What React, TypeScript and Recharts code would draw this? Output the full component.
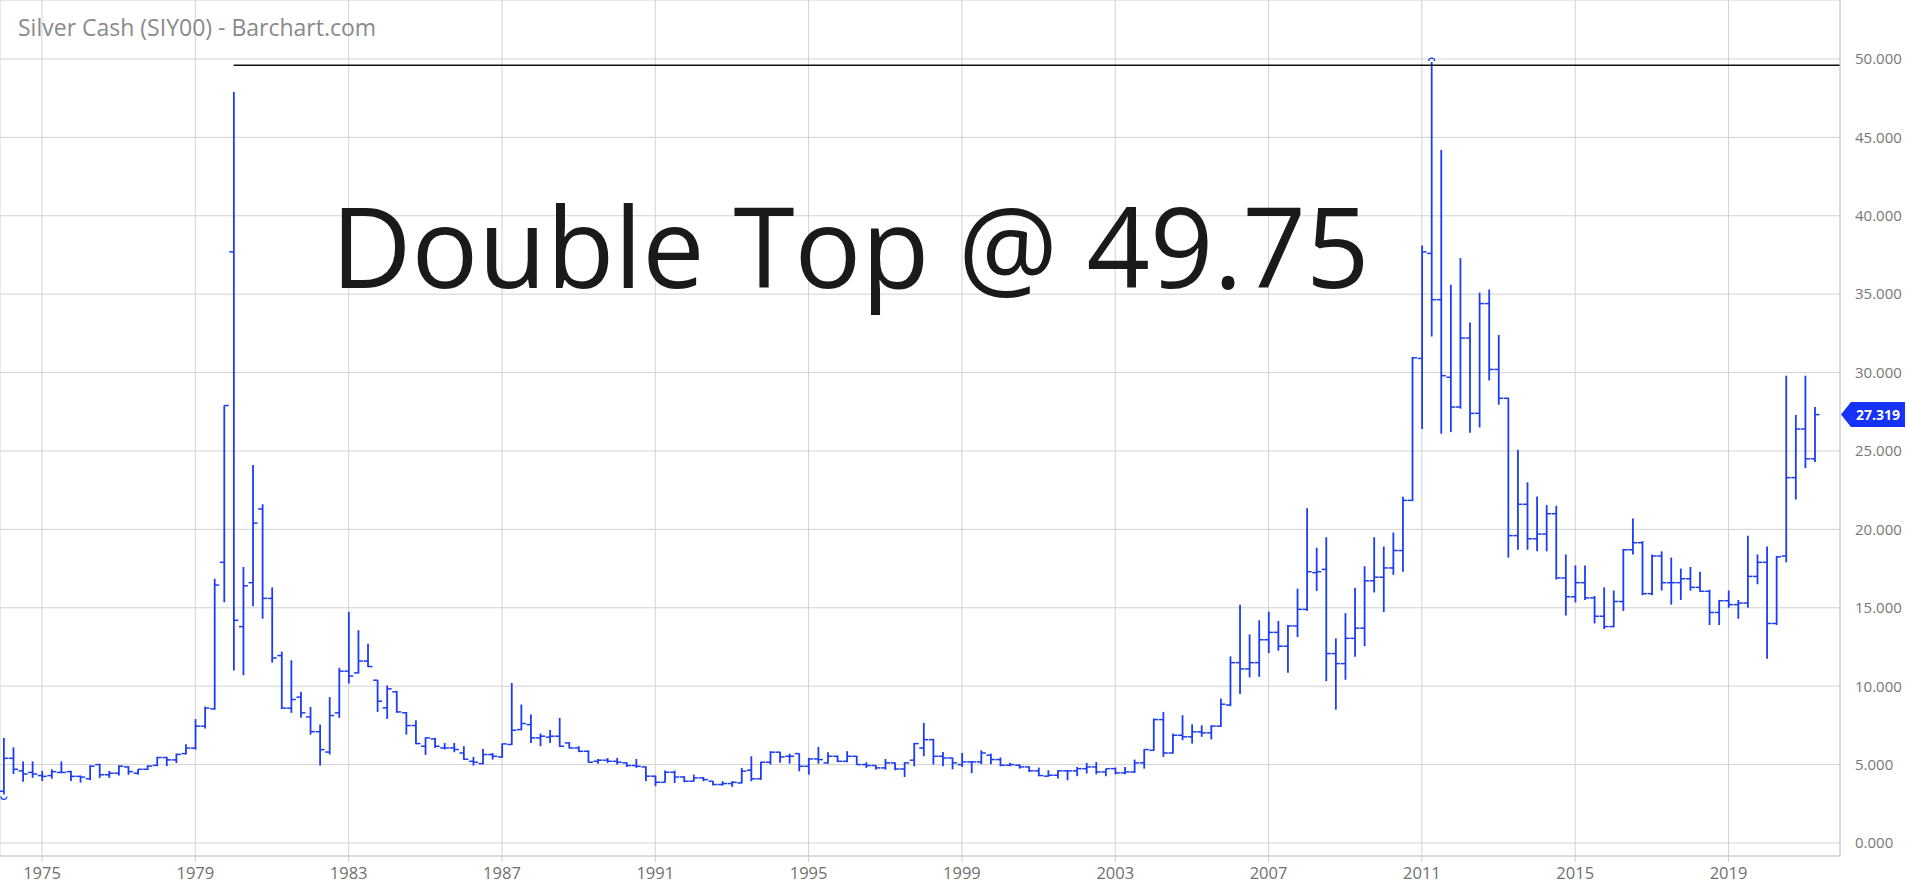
import React from "react";
import {
  ComposedChart,
  Bar,
  XAxis,
  YAxis,
  CartesianGrid,
  ReferenceLine,
} from "recharts";

// quarterly bars, first one is 1974 Q1
const FIRST_YEAR = 1974;

// prettier-ignore
const opens = [
  3.3, 5.4, 4.6, 4.5,   4.3, 4.3, 4.5, 4.55,   4.25, 4.1, 5.0, 4.35,   4.45, 4.85, 4.45, 4.7,
  4.95, 5.45, 5.3, 5.7,   6.05, 7.45, 8.55, 17.9,   37.7, 13.8, 16.6, 21.3,   15.6, 11.95, 8.6, 9.3,
  8.04, 7.1, 5.8, 8.3,   10.96, 10.85, 11.6, 10.38,   8.62, 9.64, 8.3, 7.49,   6.17, 6.64, 6.06, 6.06,
  5.74, 5.21, 5.06, 5.64,   5.49, 6.28, 7.23, 7.55,   6.7, 6.75, 6.81, 6.38,   6.06, 5.85, 5.21, 5.28,
  5.21, 5.11, 4.94, 4.85,   4.26, 3.87, 4.51, 4.21,   3.94, 4.15, 3.94, 3.73,   3.79, 3.83, 4.64, 4.09,
  5.15, 5.79, 5.53, 5.7,   4.89, 5.36, 5.11, 5.53,   5.21, 5.53, 5.0, 4.94,   4.79, 5.11, 4.72, 5.28,
  6.06, 6.59, 5.53, 5.42,   5.0, 5.17, 5.17, 5.6,   5.32, 4.96, 4.96, 4.85,   4.6, 4.26, 4.32, 4.6,
  4.6, 4.74, 4.85, 4.53,   4.74, 4.47, 4.53, 5.11,   5.91, 7.87, 5.74, 6.87,   6.77, 7.09, 7.02, 7.45,
  8.8, 11.5, 11.1, 11.5,   12.96, 13.43, 12.55, 13.84,   14.9, 17.24, 17.45, 12.08,   11.44, 13.05, 13.7, 16.72,
  16.95, 17.54, 18.65, 21.85,   30.9, 37.6, 34.65, 29.7,   27.8, 32.2, 27.4, 34.4,   30.2, 28.36, 19.6, 21.6,
  19.4, 19.7, 21.0, 16.9,   15.7, 16.6, 15.63, 14.46,   13.8, 15.4, 18.7, 19.15,   15.9, 18.3, 16.6, 16.6,
  16.85, 16.3, 16.05, 14.7,   15.45, 15.2, 15.3, 17.0,   17.9, 14.0, 18.3, 23.3,   26.4, 24.5,
];

// prettier-ignore
const highs = [
  6.7, 6.1, 5.2, 5.2,   4.6, 4.7, 5.2, 4.6,   4.3, 4.95, 5.05, 4.6,   4.95, 4.9, 4.7, 4.95,
  5.5, 5.5, 5.7, 6.3,   7.9, 8.7, 16.85, 27.9,   47.9, 17.6, 24.1, 21.6,   16.3, 12.2, 11.65, 9.64,
  8.67, 7.55, 9.3, 11.17,   14.74, 13.57, 12.7, 10.4,   10.04, 9.7, 8.35, 7.83,   6.74, 6.7, 6.38, 6.38,
  6.17, 5.49, 6.0, 5.74,   6.34, 10.2, 8.83, 8.19,   6.98, 7.2, 7.98, 6.43,   6.17, 5.9, 5.36, 5.42,
  5.42, 5.15, 5.36, 4.88,   4.3, 4.62, 4.62, 4.26,   4.36, 4.21, 3.96, 3.94,   3.94, 4.79, 5.53, 5.18,
  5.85, 5.82, 5.7, 5.72,   5.42, 6.13, 5.79, 5.57,   5.85, 5.56, 5.15, 4.96,   5.36, 5.14, 5.15, 6.38,
  7.66, 6.64, 5.8, 5.45,   5.74, 5.23, 5.91, 5.7,   5.45, 5.11, 5.02, 4.89,   4.81, 4.64, 4.64, 4.64,
  4.85, 5.11, 5.17, 4.74,   4.81, 4.85, 5.32, 5.98,   7.94, 8.36, 6.98, 8.15,   7.57, 7.51, 7.51, 9.21,
  11.9, 15.2, 13.3, 14.2,   14.75, 14.16, 13.9, 16.22,   21.35, 18.83, 19.5, 13.05,   14.66, 16.28, 17.65, 19.5,
  18.91, 19.8, 22.08, 31.0,   38.1, 49.8, 44.2, 35.6,   37.3, 33.2, 35.1, 35.3,   32.4, 28.4, 25.07, 23.0,
  22.1, 21.55, 21.5, 18.4,   17.7, 17.7, 15.75, 16.3,   16.1, 18.75, 20.7, 19.25,   18.4, 18.6, 18.2, 17.5,
  17.6, 17.3, 16.15, 15.5,   16.1, 15.5, 19.6, 18.4,   18.9, 18.3, 29.8, 27.3,   29.8, 27.8,
];

// prettier-ignore
const lows = [
  3.1, 4.4, 3.9, 4.15,   3.95, 4.1, 4.45, 3.95,   3.85, 4.0, 4.15, 4.15,   4.3, 4.35, 4.35, 4.65,
  4.9, 4.9, 5.1, 5.65,   5.95, 7.3, 8.5, 15.35,   11.0, 10.7, 15.1, 14.3,   11.5, 8.55, 8.3, 7.98,
  6.91, 4.94, 5.64, 7.98,   10.17, 10.8, 11.23, 8.36,   7.91, 8.3, 6.91, 6.3,   5.62, 6.06, 5.96, 5.79,
  5.3, 4.94, 5.02, 5.32,   5.43, 6.25, 7.2, 6.38,   6.17, 6.38, 6.13, 6.02,   5.79, 5.12, 5.06, 5.11,
  5.0, 4.85, 4.79, 3.94,   3.62, 3.85, 3.83, 3.87,   3.92, 3.94, 3.66, 3.66,   3.58, 3.8, 3.94, 4.04,
  5.0, 5.11, 5.06, 4.57,   4.36, 5.06, 5.06, 5.15,   5.15, 4.98, 4.79, 4.68,   4.68, 4.64, 4.21, 4.89,
  5.53, 5.0, 4.89, 4.7,   4.85, 4.45, 5.02, 5.02,   4.89, 4.89, 4.74, 4.53,   4.26, 4.22, 4.11, 4.0,
  4.26, 4.43, 4.38, 4.26,   4.38, 4.38, 4.47, 4.74,   5.88, 5.49, 5.7, 6.55,   6.34, 6.77, 6.6, 7.4,
  8.72, 9.5, 10.56, 10.6,   12.11, 12.26, 10.85, 13.14,   14.8, 16.07, 10.32, 8.5,   10.41, 11.88, 12.55, 15.98,
  14.72, 17.1, 17.3, 21.8,   26.4, 32.3, 26.1, 26.2,   27.7, 26.16, 26.5, 29.5,   27.95, 18.2, 18.7, 18.7,
  18.6, 18.6, 16.8, 14.5,   15.34, 15.5, 14.0, 13.64,   13.75, 14.8, 18.4, 15.8,   15.8, 16.1, 15.2, 15.5,
  16.1, 16.0, 13.9, 13.9,   15.0, 14.3, 15.0, 16.5,   11.75, 13.9, 17.9, 21.9,   23.9, 24.3,
];

// prettier-ignore
const closes = [
  5.4, 4.7, 4.4, 4.4,   4.25, 4.55, 4.5, 4.25,   4.2, 4.9, 4.35, 4.45,   4.9, 4.55, 4.7, 4.9,
  5.45, 5.3, 5.65, 6.05,   7.45, 8.6, 16.45, 27.9,   14.2, 16.4, 20.4, 15.6,   11.8, 8.6, 9.15, 8.3,
  7.1, 5.95, 8.13, 10.96,   10.65, 11.6, 11.25, 9.04,   9.83, 8.36, 7.49, 6.34,   6.7, 6.17, 6.06, 5.96,
  5.34, 5.15, 5.64, 5.53,   6.32, 7.19, 7.62, 6.7,   6.81, 6.81, 6.17, 6.06,   5.85, 5.15, 5.28, 5.21,
  5.15, 4.94, 4.89, 4.26,   3.87, 4.51, 4.21, 3.94,   4.15, 4.04, 3.73, 3.79,   3.87, 4.58, 4.09, 5.15,
  5.79, 5.49, 5.53, 4.89,   5.36, 5.32, 5.53, 5.21,   5.53, 5.0, 4.94, 4.79,   5.11, 4.72, 5.11, 6.34,
  6.59, 5.53, 5.42, 5.11,   5.17, 5.17, 5.74, 5.32,   4.96, 5.0, 4.85, 4.6,   4.3, 4.32, 4.6, 4.6,
  4.74, 4.85, 4.53, 4.74,   4.47, 4.53, 5.11, 5.96,   7.87, 5.74, 6.87, 6.77,   7.09, 7.02, 7.45, 8.85,
  11.5, 11.1, 11.5, 12.96,   13.43, 12.55, 13.84, 14.9,   17.3, 17.3, 12.08, 11.44,   13.05, 13.7, 16.72, 16.95,
  17.54, 18.65, 21.85, 30.94,   37.7, 34.65, 29.8, 27.8,   32.2, 27.4, 34.4, 30.2,   28.36, 19.6, 21.6, 19.4,
  19.7, 21.0, 16.9, 15.7,   16.6, 15.63, 14.46, 13.8,   15.4, 18.7, 19.15, 15.9,   18.3, 16.6, 16.6, 16.85,
  16.3, 16.05, 14.7, 15.45,   15.2, 15.3, 17.0, 17.9,   14.0, 18.25, 23.3, 26.4,   24.5, 27.319,
];

const yearTicks = [1975, 1979, 1983, 1987, 1991, 1995, 1999, 2003, 2007, 2011, 2015, 2019];
const priceTicks = [0, 5, 10, 15, 20, 25, 30, 35, 40, 45, 50];

const doubleTopLevel = 49.6;
const doubleTopFrom = 1980;
const lastPrice = 27.319;

const title = "Silver Cash (SIY00) - Barchart.com";
const annotation = "Double Top @ 49.75";

const BLUE = "#1d3cf6";
const GRID = "#d3d3d3";

const hiIdx = highs.indexOf(Math.max(...highs));
const loIdx = lows.indexOf(Math.min(...lows));

const data = opens.map((o, i) => ({
  t: FIRST_YEAR + i / 4,
  open: o,
  high: highs[i],
  low: lows[i],
  close: closes[i],
  mark: i === hiIdx ? "hi" : i === loIdx ? "lo" : "",
}));

function OhlcBar(props: any) {
  const { x, y, width, height, payload } = props;
  if (x == null || y == null || !payload) return null;
  const cx = x + width / 2;
  const top = Math.min(y, y + height);
  const bot = Math.max(y, y + height);
  const span = payload.high - payload.low;
  const py = (v: number) => (span > 0 ? bot - ((v - payload.low) / span) * (bot - top) : top);
  const yo = py(payload.open);
  const yc = py(payload.close);
  return (
    <g fill="none" stroke={BLUE}>
      <line x1={cx} x2={cx} y1={top} y2={bot} strokeWidth={1.8} />
      <line x1={cx - 4.5} x2={cx} y1={yo} y2={yo} strokeWidth={1.5} />
      <line x1={cx} x2={cx + 4.5} y1={yc} y2={yc} strokeWidth={1.5} />
      {payload.mark === "hi" && (
        <path d={`M${cx - 3},${top - 1} A3,3 0 0 1 ${cx + 3},${top - 1}`} strokeWidth={1.2} />
      )}
      {payload.mark === "lo" && (
        <path d={`M${cx - 3},${bot + 2} A3,3 0 0 0 ${cx + 3},${bot + 2}`} strokeWidth={1.2} />
      )}
    </g>
  );
}

function PriceBadge(props: any) {
  const vb = props.viewBox || {};
  const r = (vb.x ?? 0) + (vb.width ?? 0);
  const cy = vb.y ?? 0;
  const h = 12.5;
  const pts = `${r + 1},${cy} ${r + 11},${cy - h} ${r + 65},${cy - h} ${r + 65},${cy + h} ${r + 11},${cy + h}`;
  return (
    <g>
      <polygon points={pts} fill="#1633f5" />
      <text
        x={r + 38}
        y={cy}
        dy="0.35em"
        textAnchor="middle"
        fill="#fff"
        fontSize={14}
        fontWeight={700}
        fontFamily="'Open Sans', sans-serif"
      >
        {lastPrice.toFixed(3)}
      </text>
    </g>
  );
}

export default function App() {
  return (
    <div
      style={{
        position: "absolute",
        left: 0,
        top: 0,
        width: 1907,
        height: 889,
        background: "#fff",
        fontFamily: "'Open Sans', sans-serif",
      }}
    >
      <ComposedChart
        width={1907}
        height={889}
        data={data}
        margin={{ top: 0, right: 0, bottom: 0, left: 0 }}
      >
        <CartesianGrid stroke={GRID} />
        <XAxis
          type="number"
          dataKey="t"
          domain={[1973.904, 2021.908]}
          allowDataOverflow
          ticks={yearTicks}
          interval={0}
          tickFormatter={(v) => String(v)}
          height={33}
          tickSize={6}
          tickMargin={5}
          axisLine={{ stroke: "#cccccc" }}
          tickLine={{ stroke: "#cccccc" }}
          tick={{ fill: "#6f6f6f", fontSize: 16.5, fontFamily: "'Liberation Sans Narrow', 'Open Sans', sans-serif" }}
        />
        <YAxis
          orientation="right"
          domain={[-0.83, 53.76]}
          allowDataOverflow
          ticks={priceTicks}
          interval={0}
          tickFormatter={(v) => Number(v).toFixed(3)}
          width={67}
          tickSize={0}
          tickMargin={15}
          tickLine={false}
          axisLine={{ stroke: "#cccccc" }}
          tick={{ fill: "#777777", fontSize: 15, textAnchor: "start" }}
        />
        <ReferenceLine
          segment={[
            { x: doubleTopFrom, y: doubleTopLevel },
            { x: 2021.908, y: doubleTopLevel },
          ]}
          stroke="#111111"
          strokeWidth={1.3}
          ifOverflow="visible"
        />
        <Bar
          dataKey={(d: any) => [d.low, d.high]}
          shape={(p: any) => <OhlcBar {...p} />}
          barSize={8}
          isAnimationActive={false}
        />
        <ReferenceLine
          y={lastPrice}
          stroke="none"
          ifOverflow="visible"
          label={(p: any) => <PriceBadge {...p} />}
        />
      </ComposedChart>
      <svg
        width={1907}
        height={889}
        style={{ position: "absolute", left: 0, top: 0, pointerEvents: "none" }}
      >
        <text x={18} y={36} fontSize={23} fill="#8a8a8a" fontFamily="'Open Sans', sans-serif">
          {title}
        </text>
        <text x={331} y={288} fontSize={111} fill="#1a1a1a" fontFamily="'Open Sans', sans-serif">
          {annotation}
        </text>
      </svg>
    </div>
  );
}
